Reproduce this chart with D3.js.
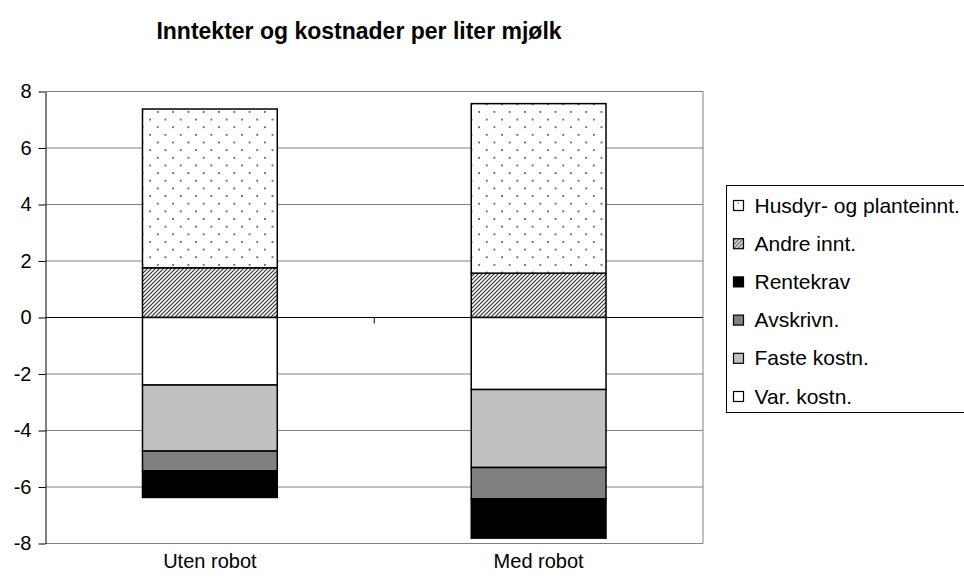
<!DOCTYPE html>
<html>
<head>
<meta charset="utf-8">
<script src="https://cdn.jsdelivr.net/npm/d3@7"></script>
<style>
  body { margin: 0; background: #fff; }
  svg { font-family: 'Liberation Sans', Arial, sans-serif; }
</style>
</head>
<body>
<div id="chart"></div>
<script>
const categories = ['Uten robot', 'Med robot']
// inntekter (positive), stacked from 0 upwards
const andreInnt = [1.76, 1.57]
const husdyrInnt = [5.62, 6.00]
// kostnader (negative), stacked from 0 downwards
const varKostn = [-2.39, -2.55]
const fasteKostn = [-2.34, -2.76]
const avskrivn = [-0.70, -1.11]
const rentekrav = [-0.94, -1.39]
const yTicks = [-8, -6, -4, -2, 0, 2, 4, 6, 8]

const series = [
    {name: 'Andre innt.', values: andreInnt, fill: 'url(#hatch)'},
    {name: 'Husdyr- og planteinnt.', values: husdyrInnt, fill: 'url(#dots)'},
    {name: 'Var. kostn.', values: varKostn, fill: '#ffffff'},
    {name: 'Faste kostn.', values: fasteKostn, fill: '#c0c0c0'},
    {name: 'Avskrivn.', values: avskrivn, fill: '#808080'},
    {name: 'Rentekrav', values: rentekrav, fill: '#000000'},
]
// legend order as in the original
const legendOrder = ['Husdyr- og planteinnt.', 'Andre innt.', 'Rentekrav', 'Avskrivn.', 'Faste kostn.', 'Var. kostn.']

const width = 964, height = 582
const margin = {top: 91.5, right: 261, bottom: 38.5, left: 45.5}

const svg = d3.select('#chart').append('svg')
    .attr('width', width)
    .attr('height', height)

// fill patterns
const defs = svg.append('defs')
const dots = defs.append('pattern')
    .attr('id', 'dots')
    .attr('patternUnits', 'userSpaceOnUse')
    .attr('width', 15.3).attr('height', 15.3)
dots.append('rect').attr('width', 15.3).attr('height', 15.3).attr('fill', '#fff')
dots.append('rect').attr('x', 4).attr('y', 4).attr('width', 1.6).attr('height', 1.6).attr('fill', '#333')
dots.append('rect').attr('x', 11.65).attr('y', 11.65).attr('width', 1.6).attr('height', 1.6).attr('fill', '#333')

const hatch = defs.append('pattern')
    .attr('id', 'hatch')
    .attr('patternUnits', 'userSpaceOnUse')
    .attr('width', 4).attr('height', 4)
hatch.append('rect').attr('width', 4).attr('height', 4).attr('fill', '#fff')
hatch.append('path')
    .attr('d', 'M-1,1 L1,-1 M0,4 L4,0 M3,5 L5,3')
    .attr('stroke', '#333').attr('stroke-width', 1.2)

// Excel-like layout: bars centred in equal halves of the plot
const x = d3.scaleBand()
    .domain(categories)
    .range([margin.left, width - margin.right])
    .paddingInner(0.59)
    .paddingOuter(0.295)
const y = d3.scaleLinear()
    .domain([-8, 8])
    .range([height - margin.bottom, margin.top])

// gridlines
svg.append('g')
    .selectAll('line')
    .data(yTicks)
    .join('line')
    .attr('x1', margin.left).attr('x2', width - margin.right)
    .attr('y1', d => y(d)).attr('y2', d => y(d))
    .attr('stroke', '#808080')
    .attr('stroke-width', 1)

// plot border (right side)
svg.append('line')
    .attr('x1', width - margin.right).attr('x2', width - margin.right)
    .attr('y1', y(8)).attr('y2', y(-8))
    .attr('stroke', '#808080')

// stacked bars
const stackPos = categories.map(() => 0)
const stackNeg = categories.map(() => 0)
const segments = []
series.forEach(s => {
    s.values.forEach((v, i) => {
        let y0, y1
        if (v >= 0) { y0 = stackPos[i]; y1 = y0 + v; stackPos[i] = y1 }
        else { y0 = stackNeg[i]; y1 = y0 + v; stackNeg[i] = y1 }
        segments.push({cat: categories[i], y0, y1, fill: s.fill})
    })
})
svg.append('g')
    .selectAll('rect')
    .data(segments)
    .join('rect')
    .attr('x', d => x(d.cat))
    .attr('width', x.bandwidth())
    .attr('y', d => y(Math.max(d.y0, d.y1)))
    .attr('height', d => Math.abs(y(d.y0) - y(d.y1)))
    .attr('fill', d => d.fill)
    .attr('stroke', '#000')
    .attr('stroke-width', 1.5)

// y axis
const yAxis = d3.axisLeft(y)
    .tickValues(yTicks)
    .tickFormat(d => String(d))
    .tickSize(7)
    .tickSizeOuter(0)
    .tickPadding(7)
const yG = svg.append('g')
    .attr('transform', `translate(${margin.left},0)`)
    .call(yAxis)
yG.select('.domain').attr('stroke', '#000')
yG.selectAll('.tick line').attr('stroke', '#000')
yG.selectAll('text')
    .attr('font-size', 20)
    .attr('font-family', "'Liberation Sans', Arial, sans-serif")
    .attr('fill', '#000')

// x axis line at zero, tick between the categories
const xG = svg.append('g')
xG.append('line')
    .attr('x1', margin.left).attr('x2', width - margin.right)
    .attr('y1', y(0)).attr('y2', y(0))
    .attr('stroke', '#000')
xG.selectAll('.between')
    .data(categories.slice(1))
    .join('line')
    .attr('class', 'between')
    .attr('x1', d => x(d) - (x.step() - x.bandwidth()) / 2)
    .attr('x2', d => x(d) - (x.step() - x.bandwidth()) / 2)
    .attr('y1', y(0)).attr('y2', y(0) + 6)
    .attr('stroke', '#000')

// category labels
svg.append('g')
    .selectAll('text')
    .data(categories)
    .join('text')
    .attr('x', d => x(d) + x.bandwidth() / 2)
    .attr('y', height - 14)
    .attr('text-anchor', 'middle')
    .attr('font-size', 20)
    .text(d => d)

// title
svg.append('text')
    .attr('x', 359)
    .attr('y', 39)
    .attr('text-anchor', 'middle')
    .attr('font-size', 23)
    .attr('font-weight', 'bold')
    .text('Inntekter og kostnader per liter mjølk')

// legend
const legend = svg.append('g').attr('transform', 'translate(726.5,185.5)')
legend.append('rect')
    .attr('width', 260).attr('height', 227)
    .attr('fill', '#fff')
    .attr('stroke', '#000')
const items = legend.selectAll('.item')
    .data(legendOrder.map(n => series.find(s => s.name === n)))
    .join('g')
    .attr('class', 'item')
    .attr('transform', (d, i) => `translate(0,${20 + i * 38.2})`)
items.append('rect')
    .attr('x', 7).attr('y', -5)
    .attr('width', 10).attr('height', 10)
    .attr('fill', d => d.fill === 'url(#dots)' ? '#fff' : d.fill)
    .attr('stroke', '#000')
    .attr('stroke-width', 1.2)
items.filter(d => d.fill === 'url(#dots)').append('rect')
    .attr('x', 11).attr('y', -3).attr('width', 1.2).attr('height', 1.2).attr('fill', '#444')
items.append('text')
    .attr('x', 28)
    .attr('y', 7)
    .attr('font-size', 21)
    .text(d => d.name)
</script>
</body>
</html>
